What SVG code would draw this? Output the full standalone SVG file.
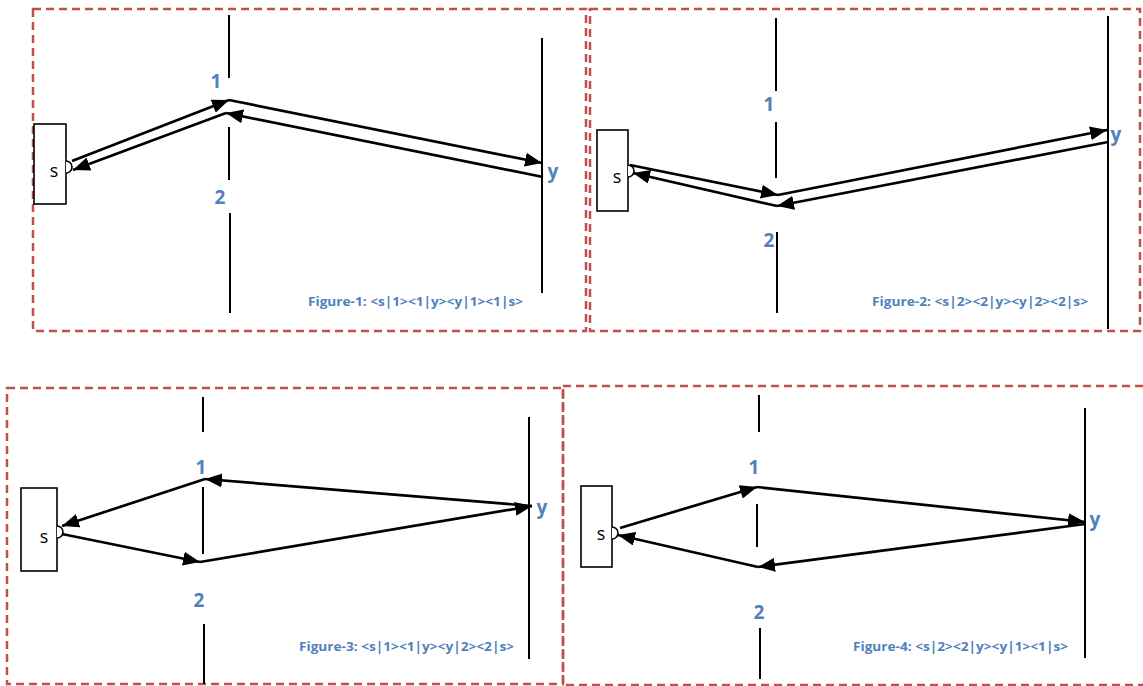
<svg xmlns="http://www.w3.org/2000/svg" width="1143" height="686" viewBox="0 0 1143 686">
<style>
.frame{fill:none;stroke:#C0504D;stroke-width:2.5;stroke-dasharray:8 5}
.bar{stroke:#000;stroke-width:2;fill:none}
.arr{stroke:#000;stroke-width:2.7;fill:none;marker-end:url(#ah)}
.src{fill:#fff;stroke:#000;stroke-width:1.6}
.det{fill:#fff;stroke:#000;stroke-width:1.6}
.lbl{font-family:"Open Sans","Liberation Sans",Arial,sans-serif;font-weight:bold;font-size:19px;fill:#4F81BD;text-anchor:middle}
.s{font-family:"Open Sans","Liberation Sans",Arial,sans-serif;font-size:18px;fill:#000;text-anchor:middle}
.cap{font-family:"Open Sans","Liberation Sans",Arial,sans-serif;font-weight:bold;font-size:12.5px;fill:#4F81BD}
</style>
<defs>
<marker id="ah" markerUnits="userSpaceOnUse" markerWidth="18" markerHeight="14" refX="17" refY="7" orient="auto">
<path d="M0,0 L17,7 L0,14 Z" fill="#000"/>
</marker>
</defs>

<g id="fig1">
<rect class="frame" x="33" y="9" width="553" height="322"/>
<line class="bar" x1="229" y1="15" x2="229" y2="78"/>
<line class="bar" x1="229" y1="127" x2="229" y2="180"/>
<line class="bar" x1="230" y1="213" x2="230" y2="313"/>
<line class="bar" x1="542" y1="38" x2="542" y2="293"/>
<rect class="src" x="34" y="124" width="32" height="80"/>
<path class="det" d="M66,161 A6,6 0 0 1 66,173"/>
<text class="s" x="54" y="177">s</text>
<text class="lbl" x="216" y="88">1</text>
<text class="lbl" x="220" y="204">2</text>
<text class="lbl" x="553" y="178">y</text>
<text class="cap" x="308" y="306" textLength="215" lengthAdjust="spacingAndGlyphs">Figure-1: &lt;s|1&gt;&lt;1|y&gt;&lt;y|1&gt;&lt;1|s&gt;</text>
</g>

<g id="fig2">
<rect class="frame" x="590" y="9" width="550" height="322"/>
<line class="bar" x1="776" y1="18" x2="776" y2="70"/>
<line class="bar" x1="776" y1="70" x2="776" y2="91" stroke="#999"/>
<line class="bar" x1="776" y1="122" x2="776" y2="178"/>
<line class="bar" x1="777" y1="232" x2="777" y2="313"/>
<line class="bar" x1="1108" y1="16" x2="1108" y2="329"/>
<rect class="src" x="597" y="130" width="31" height="81"/>
<path class="det" d="M628,165 A6,6 0 0 1 628,177"/>
<text class="s" x="617" y="183">s</text>
<text class="lbl" x="769" y="111">1</text>
<text class="lbl" x="769" y="247">2</text>
<text class="lbl" x="1116" y="141">y</text>
<text class="cap" x="872" y="306" textLength="216" lengthAdjust="spacingAndGlyphs">Figure-2: &lt;s|2&gt;&lt;2|y&gt;&lt;y|2&gt;&lt;2|s&gt;</text>
</g>

<g id="fig3">
<rect class="frame" x="7" y="388" width="556" height="296"/>
<line class="bar" x1="203" y1="397" x2="203" y2="432"/>
<line class="bar" x1="203" y1="487" x2="203" y2="554"/>
<line class="bar" x1="204" y1="624" x2="204" y2="684"/>
<line class="bar" x1="529" y1="417" x2="529" y2="659"/>
<rect class="src" x="21" y="488" width="36" height="83"/>
<path class="det" d="M57,526 A6,6 0 0 1 57,538"/>
<text class="s" x="44" y="543">s</text>
<text class="lbl" x="201" y="474">1</text>
<text class="lbl" x="199" y="607">2</text>
<text class="lbl" x="542" y="514">y</text>
<text class="cap" x="299" y="651" textLength="215" lengthAdjust="spacingAndGlyphs">Figure-3: &lt;s|1&gt;&lt;1|y&gt;&lt;y|2&gt;&lt;2|s&gt;</text>
</g>

<g id="fig4">
<rect class="frame" x="563" y="386" width="584" height="299"/>
<line class="bar" x1="759" y1="395" x2="759" y2="432"/>
<line class="bar" x1="757" y1="504" x2="757" y2="547"/>
<line class="bar" x1="760" y1="628" x2="760" y2="679"/>
<line class="bar" x1="1085" y1="408" x2="1085" y2="658"/>
<rect class="src" x="581" y="486" width="31" height="81"/>
<path class="det" d="M612,527 A6,6 0 0 1 612,539"/>
<text class="s" x="601" y="540">s</text>
<text class="lbl" x="754" y="474">1</text>
<text class="lbl" x="759" y="619">2</text>
<text class="lbl" x="1095" y="526">y</text>
<text class="cap" x="853" y="651" textLength="215" lengthAdjust="spacingAndGlyphs">Figure-4: &lt;s|2&gt;&lt;2|y&gt;&lt;y|1&gt;&lt;1|s&gt;</text>
</g>

<g id="connectors">
<line class="arr" x1="72" y1="161" x2="229" y2="100"/>
<line class="arr" x1="229" y1="100" x2="542" y2="163"/>
<line class="arr" x1="543" y1="177" x2="226" y2="113"/>
<line class="arr" x1="226" y1="113" x2="73" y2="170"/>
<line class="arr" x1="630" y1="165" x2="778" y2="195"/>
<line class="arr" x1="778" y1="195" x2="1107" y2="130"/>
<line class="arr" x1="1108" y1="142" x2="777" y2="206"/>
<line class="arr" x1="777" y1="206" x2="633" y2="173"/>
<line class="arr" x1="62" y1="534" x2="200" y2="562"/>
<line class="arr" x1="200" y1="562" x2="532" y2="506"/>
<line class="arr" x1="532" y1="506" x2="205" y2="479"/>
<line class="arr" x1="205" y1="479" x2="62" y2="526"/>
<line class="arr" x1="620" y1="528" x2="757" y2="487"/>
<line class="arr" x1="757" y1="487" x2="1085" y2="522"/>
<line class="arr" x1="1085" y1="524" x2="758" y2="567"/>
<line class="arr" x1="758" y1="567" x2="618" y2="535"/>
</g>
</svg>
